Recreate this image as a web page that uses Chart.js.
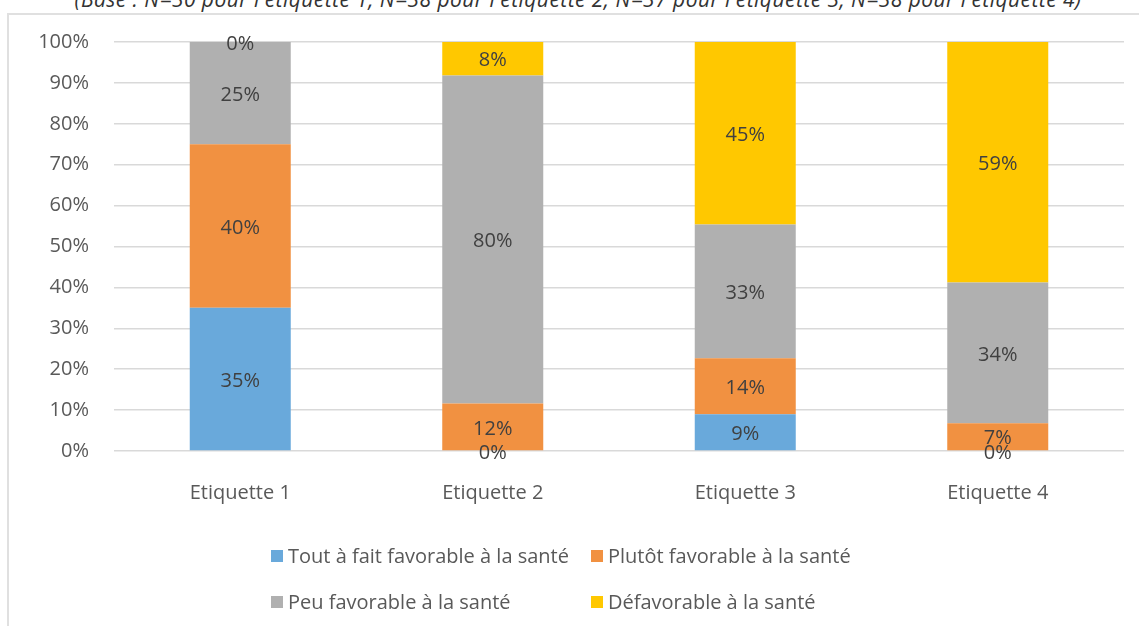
<!DOCTYPE html>
<html lang="fr">
<head>
<meta charset="utf-8">
<title>Appréciation des étiquettes</title>
<script src="https://cdn.jsdelivr.net/npm/chart.js@4.4.1/dist/chart.umd.min.js"></script>
<style>
  html, body { margin: 0; padding: 0; background: #ffffff; overflow: hidden; }
  body { width: 1139px; height: 626px; position: relative; font-family: "Open Sans", "DejaVu Sans", sans-serif; }
  #frame {
    position: absolute; left: 7px; top: 13px; width: 1200px; height: 700px;
    border-left: 2px solid #e0e0e0; border-top: 2px solid #e0e0e0; box-sizing: border-box;
  }
  #base {
    position: absolute; left: 0; width: 1156px; top: -11px; text-align: center;
    font-style: italic; font-size: 21px; line-height: 21px; letter-spacing: 0.45px;
    color: #333333; white-space: nowrap;
  }
  #wrap { position: absolute; left: 0; top: 0; width: 1139px; height: 626px; }
  #legend {
    position: absolute; left: 271px; top: 542px;
    display: grid; grid-template-columns: 320px auto; row-gap: 19px;
    font-size: 20px; line-height: 27px; color: #595959;
  }
  .item { display: flex; align-items: center; white-space: nowrap; }
  .sw { width: 12px; height: 12px; margin-right: 5px; flex: none; }
</style>
</head>
<body>
<div id="frame"></div>
<div id="base">(Base : N=30 pour l'étiquette 1, N=38 pour l'étiquette 2, N=37 pour l'étiquette 3, N=38 pour l'étiquette 4)</div>
<div id="wrap"><canvas id="chart" width="1139" height="626"></canvas></div>
<div id="legend"></div>
<script>
// Categories and series (shares in %, stacked to 100)
const categories = ["Etiquette 1", "Etiquette 2", "Etiquette 3", "Etiquette 4"];
const seriesNames = [
  "Tout à fait favorable à la santé",
  "Plutôt favorable à la santé",
  "Peu favorable à la santé",
  "Défavorable à la santé"
];
const toutAFait   = [35, 0,    9.0,  0];
const plutot      = [40, 11.6, 13.7, 6.8];
const peu         = [25, 80.2, 32.7, 34.4];
const defavorable = [0,  8.2,  44.6, 58.8];
const yTicks = [0, 10, 20, 30, 40, 50, 60, 70, 80, 90, 100];

const colors = ["#69A9DB", "#F19141", "#B0B0B0", "#FFC800"];
const seriesValues = [toutAFait, plutot, peu, defavorable];

const datasets = seriesValues.map((vals, i) => ({
  label: seriesNames[i],
  data: vals,
  backgroundColor: colors[i],
  borderWidth: 0,
  categoryPercentage: 1.0,
  barPercentage: 0.4
}));

// Writes the rounded share in the middle of every segment
const segmentLabels = {
  id: "segmentLabels",
  afterDatasetsDraw(chart) {
    const ctx = chart.ctx;
    ctx.save();
    ctx.font = '20px "Open Sans", sans-serif';
    ctx.fillStyle = "#404040";
    ctx.textAlign = "center";
    ctx.textBaseline = "middle";
    chart.data.datasets.forEach((ds, di) => {
      const meta = chart.getDatasetMeta(di);
      meta.data.forEach((bar, i) => {
        const p = bar.getCenterPoint();
        ctx.fillText(Math.round(ds.data[i]) + "%", p.x, p.y + 2);
      });
    });
    ctx.restore();
  }
};

const chart = new Chart(document.getElementById("chart"), {
  type: "bar",
  data: { labels: categories, datasets },
  options: {
    responsive: false,
    animation: false,
    layout: { padding: { left: 0, right: 15, top: 42, bottom: 0 } },
    plugins: { legend: { display: false }, tooltip: { enabled: false } },
    scales: {
      x: {
        stacked: true,
        grid: { display: false, drawTicks: false },
        border: { display: false },
        ticks: { color: "#595959", font: { family: "Open Sans", size: 20 }, padding: 30 },
        afterFit(scale) { scale.height = 175; }
      },
      y: {
        stacked: true,
        min: 0, max: 100,
        afterBuildTicks(scale) { scale.ticks = yTicks.map(v => ({ value: v })); },
        grid: { color: "#d9d9d9", lineWidth: 1.5, drawTicks: false },
        border: { display: false },
        ticks: {
          color: "#595959", font: { family: "Open Sans", size: 20 }, padding: 25,
          callback: v => v + "%"
        },
        afterFit(scale) { scale.width = 114; }
      }
    }
  },
  plugins: [segmentLabels]
});

// Two-column legend built from the datasets
const legend = document.getElementById("legend");
datasets.forEach(ds => {
  const item = document.createElement("div");
  item.className = "item";
  const sw = document.createElement("span");
  sw.className = "sw";
  sw.style.background = ds.backgroundColor;
  const tx = document.createElement("span");
  tx.textContent = ds.label;
  item.appendChild(sw);
  item.appendChild(tx);
  legend.appendChild(item);
});
</script>
</body>
</html>
